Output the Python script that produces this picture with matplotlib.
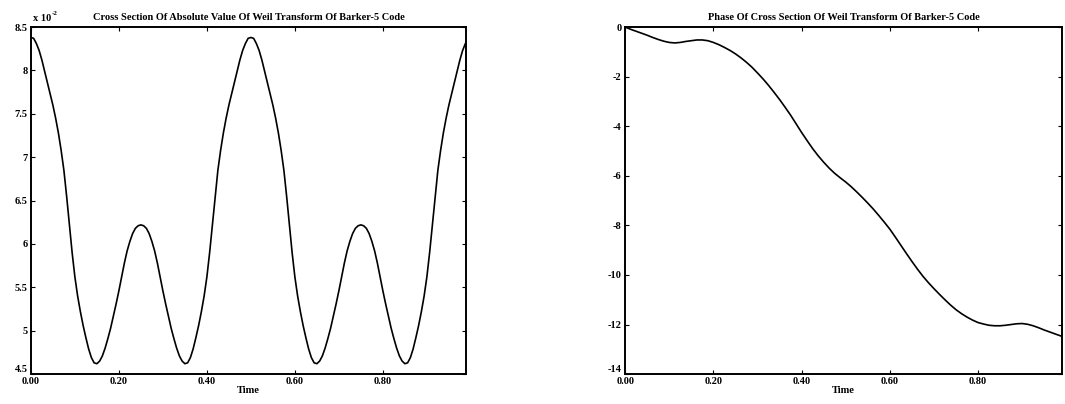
import numpy as np
import matplotlib
matplotlib.use('Agg')
import matplotlib.pyplot as plt

# values (magnitude in units of 1e-2)
# one quarter of the magnitude curve, 0 .. 0.25 in steps of 0.00625
mag_quarter = [8.38, 8.37, 8.31, 8.23, 8.12, 7.99, 7.86, 7.73, 7.60, 7.45,
               7.28, 7.08, 6.85, 6.55, 6.22, 5.90, 5.62, 5.40, 5.22, 5.06,
               4.92, 4.79, 4.69, 4.63, 4.62, 4.65, 4.71, 4.80, 4.91, 5.03,
               5.17, 5.31, 5.46, 5.62, 5.78, 5.92, 6.03, 6.12, 6.18, 6.21,
               6.22]
# curve is symmetric about 0.25 and repeats every 0.5
mag_half = mag_quarter + mag_quarter[-2::-1]
mag_e2 = mag_half[:-1] + mag_half[:-1]
time = np.linspace(0, 0.99375, len(mag_e2))

phase = [0.00, -0.09, -0.17, -0.25, -0.33, -0.42, -0.50, -0.57, -0.62, -0.64,
         -0.62, -0.58, -0.55, -0.52, -0.52, -0.55, -0.62, -0.71, -0.82, -0.94,
         -1.08, -1.24, -1.42, -1.62, -1.85, -2.09, -2.35, -2.63, -2.92, -3.23,
         -3.55, -3.90, -4.25, -4.58, -4.90, -5.19, -5.45, -5.69, -5.90, -6.08,
         -6.25, -6.44, -6.65, -6.87, -7.10, -7.34, -7.60, -7.87, -8.15, -8.47,
         -8.80, -9.13, -9.45, -9.76, -10.05, -10.31, -10.55, -10.78, -11.00, -11.21,
         -11.40, -11.56, -11.70, -11.82, -11.92, -11.98, -12.03, -12.05, -12.05, -12.03,
         -12.00, -11.97, -11.96, -11.99, -12.05, -12.13, -12.22, -12.30, -12.38, -12.46]
phase_t = np.linspace(0, 0.9875, len(phase))

xticks = [0.0, 0.2, 0.4, 0.6, 0.8]
xticklabels = ['0.00', '0.20', '0.40', '0.60', '0.80']
mag_ticks = [4.5, 5, 5.5, 6, 6.5, 7, 7.5, 8, 8.5]
mag_ticklabels = ['4.5', '5', '5.5', '6', '6.5', '7', '7.5', '8', '8.5']
phase_ticks = [-14, -12, -10, -8, -6, -4, -2, 0]
phase_ticklabels = ['-14', '-12', '-10', '-8', '-6', '-4', '-2', '0']

plt.rcParams['font.family'] = ['Liberation Serif', 'DejaVu Serif']
plt.rcParams['font.weight'] = 'bold'
plt.rcParams['axes.unicode_minus'] = False

fig = plt.figure(figsize=(10.65, 4.04), dpi=100)
ax1 = fig.add_axes([0.029, 0.074, 0.409, 0.859])
ax2 = fig.add_axes([0.587, 0.074, 0.410, 0.859])


def style(ax):
    for s in ax.spines.values():
        s.set_linewidth(1.4)
    ax.tick_params(direction='in', length=3, width=0.8, top=True, right=True,
                   labelsize=7.5)
    ax.tick_params(axis='x', pad=2)
    ax.tick_params(axis='y', pad=2.5)
    for lab in ax.get_xticklabels() + ax.get_yticklabels():
        lab.set_fontweight('bold')
    # lowest y label sits just above the corner, as in the original
    ax.get_yticklabels()[0].set_va('bottom')
    ax.set_xlabel('Time', fontsize=7.5, fontweight='bold', labelpad=0)


ax1.plot(time, mag_e2, color='black', lw=1.2)
ax1.set_xlim(0, 0.99)
ax1.set_ylim(4.5, 8.5)
ax1.set_xticks(xticks)
ax1.set_xticklabels(xticklabels)
ax1.set_yticks(mag_ticks)
ax1.set_yticklabels(mag_ticklabels)
style(ax1)
ax1.set_title('Cross Section Of Absolute Value Of Weil Transform Of Barker-5 Code',
              fontsize=7.5, fontweight='bold', pad=5)
ax1.annotate('x 10', xy=(0.004, 1.012), xycoords='axes fraction', fontsize=7.5,
             fontweight='bold', ha='left', va='bottom')
ax1.annotate('-2', xy=(0.004, 1.012), xycoords='axes fraction',
             xytext=(14, 5), textcoords='offset points', fontsize=5,
             fontweight='bold', ha='left', va='bottom')

ax2.plot(phase_t, phase, color='black', lw=1.2)
ax2.set_xlim(0, 0.99)
ax2.set_ylim(-14, 0)
ax2.set_xticks(xticks)
ax2.set_xticklabels(xticklabels)
ax2.set_yticks(phase_ticks)
ax2.set_yticklabels(phase_ticklabels)
style(ax2)
ax2.set_title('Phase Of Cross Section Of Weil Transform Of Barker-5 Code',
              fontsize=7.5, fontweight='bold', pad=5)

fig.savefig('out.png', dpi=100)
